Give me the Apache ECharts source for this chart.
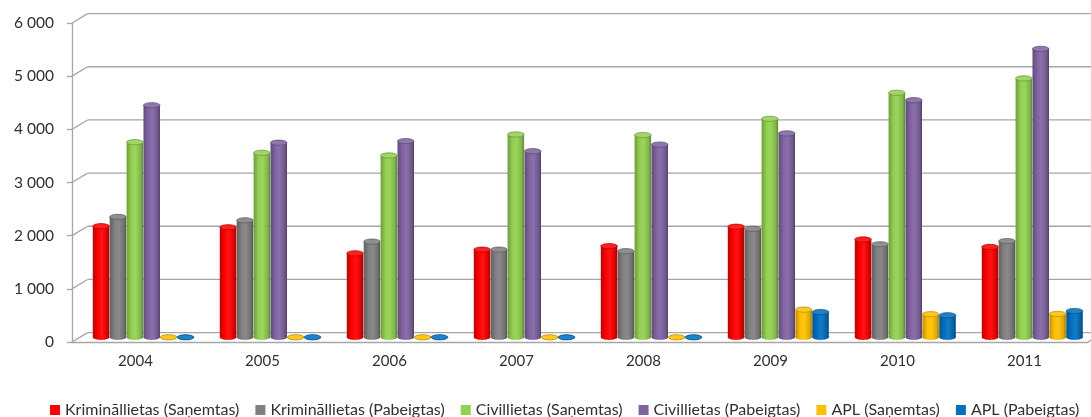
<!DOCTYPE html>
<html>
<head>
<meta charset="utf-8">
<script src="https://cdn.jsdelivr.net/npm/echarts@6/dist/echarts.min.js"></script>
<style>
html,body{margin:0;padding:0;background:#fff;}
#c{width:1091px;height:417px;}
</style>
</head>
<body>
<div id="c"></div>
<script>
// ---- data ----
const categories = ['2004', '2005', '2006', '2007', '2008', '2009', '2010', '2011'];
const seriesNames = ['Krimināllietas (Saņemtas)', 'Krimināllietas (Pabeigtas)', 'Civillietas (Saņemtas)', 'Civillietas (Pabeigtas)', 'APL (Saņemtas)', 'APL (Pabeigtas)'];
const krimSanemtas = [2090, 2070, 1580, 1650, 1715, 2080, 1840, 1700];
const krimPabeigtas = [2265, 2200, 1800, 1650, 1620, 2040, 1750, 1810];
const civSanemtas = [3670, 3470, 3420, 3815, 3805, 4110, 4600, 4870];
const civPabeigtas = [4365, 3660, 3690, 3500, 3625, 3835, 4460, 5425];
const aplSanemtas = [0, 0, 0, 0, 0, 520, 435, 440];
const aplPabeigtas = [0, 0, 0, 0, 0, 475, 415, 495];
const yTicks = [0, 1000, 2000, 3000, 4000, 5000, 6000];

// ---- styling ----
const colors = ['#FF0000', '#808080', '#92D050', '#8064A2', '#FFC000', '#0070C0'];
const FONT = 'Lato, "Liberation Sans", sans-serif';
const DX = 15.6, DY = 9.4; // oblique depth of the 3D box
const GRID_COLOR = '#A6A6A6';

function shade(hex, f) {
  const n = parseInt(hex.slice(1), 16);
  let r = (n >> 16) & 255, g = (n >> 8) & 255, b = n & 255;
  if (f < 0) { r = r * (1 + f); g = g * (1 + f); b = b * (1 + f); }
  else { r = r + (255 - r) * f; g = g + (255 - g) * f; b = b + (255 - b) * f; }
  return 'rgb(' + Math.round(r) + ',' + Math.round(g) + ',' + Math.round(b) + ')';
}

function bodyGrad(c) {
  return {
    type: 'linear', x: 0, y: 0, x2: 1, y2: 0,
    colorStops: [
      { offset: 0, color: shade(c, -0.25) },
      { offset: 0.3, color: c },
      { offset: 0.55, color: shade(c, 0.08) },
      { offset: 0.85, color: shade(c, -0.12) },
      { offset: 1, color: shade(c, -0.35) }
    ]
  };
}

function makeRender(idx, c) {
  return function (params, api) {
    const ci = api.value(0);
    const v = api.value(1);
    const base = api.coord([ci, 0]);
    const top = api.coord([ci, v]);
    const band = api.size([1, 0])[0];
    const step = band * 0.133;
    const w = band * 0.13;
    const cx = base[0] + DX / 2 + (idx - 2.5) * step;
    const yb = base[1] - DY / 2;
    const yt = top[1] - DY / 2;
    const ry = 2.6;
    return {
      type: 'group',
      children: [
        { type: 'ellipse', shape: { cx: cx, cy: yb, rx: w / 2, ry: ry }, style: { fill: bodyGrad(c) } },
        { type: 'rect', shape: { x: cx - w / 2, y: yt, width: w, height: Math.max(0, yb - yt) }, style: { fill: bodyGrad(c) } },
        { type: 'ellipse', shape: { cx: cx, cy: yt, rx: w / 2, ry: ry }, style: { fill: shade(c, 0.12), stroke: shade(c, -0.3), lineWidth: 0.7 } }
      ]
    };
  };
}

function wallRender(params, api) {
  const v = api.value(1);
  const cs = params.coordSys;
  const y = api.coord([0, v])[1];
  const x0 = cs.x;
  const st = { stroke: GRID_COLOR, lineWidth: 1.3 };
  const children = [
    { type: 'line', shape: { x1: x0, y1: y, x2: x0 + DX, y2: y - DY }, style: st },
    { type: 'line', shape: { x1: x0 + DX, y1: y - DY, x2: x0 + cs.width + DX, y2: y - DY }, style: st }
  ];
  if (v === 0) {
    children.push({ type: 'line', shape: { x1: x0 + cs.width, y1: y, x2: x0 + cs.width + DX, y2: y - DY }, style: st });
  }
  return { type: 'group', children: children };
}

const allData = [krimSanemtas, krimPabeigtas, civSanemtas, civPabeigtas, aplSanemtas, aplPabeigtas];

const series = [{
  name: 'walls',
  type: 'custom',
  silent: true,
  z: 1,
  renderItem: wallRender,
  encode: { x: 0, y: 1 },
  data: yTicks.map(v => [0, v])
}];
allData.forEach((arr, i) => {
  series.push({
    name: seriesNames[i],
    type: 'custom',
    z: 3,
    itemStyle: { color: colors[i] },
    renderItem: makeRender(i, colors[i]),
    encode: { x: 0, y: 1 },
    data: arr.map((v, j) => [j, v])
  });
});

const chart = echarts.init(document.getElementById('c'), null, { renderer: 'canvas' });
chart.setOption({
  backgroundColor: '#ffffff',
  animation: false,
  grid: { left: 72, right: 3, top: 23, bottom: 75, containLabel: false },
  legend: {
    data: seriesNames,
    top: 397,
    left: 45,
    icon: 'rect',
    itemWidth: 10,
    itemHeight: 10,
    itemGap: 16,
    textStyle: { fontFamily: FONT, fontSize: 16, color: '#303030' }
  },
  xAxis: {
    type: 'category',
    data: categories,
    axisLine: { lineStyle: { color: GRID_COLOR, width: 1.3 } },
    axisTick: { length: 6, lineStyle: { color: GRID_COLOR, width: 1.3 } },
    axisLabel: { margin: 12, fontFamily: FONT, fontSize: 15, color: '#303030' },
    splitLine: { show: false }
  },
  yAxis: {
    type: 'value',
    min: 0,
    max: 6000,
    interval: 1000,
    axisLine: { show: true, lineStyle: { color: GRID_COLOR, width: 1.3 } },
    axisTick: { show: true, length: 5, lineStyle: { color: GRID_COLOR, width: 1.3 } },
    axisLabel: {
      margin: 18,
      fontFamily: FONT, fontSize: 15.5, color: '#303030',
      formatter: v => String(v).replace(/\B(?=(\d{3})+(?!\d))/g, ' ')
    },
    splitLine: { show: false }
  },
  series: series
});
</script>
</body>
</html>
